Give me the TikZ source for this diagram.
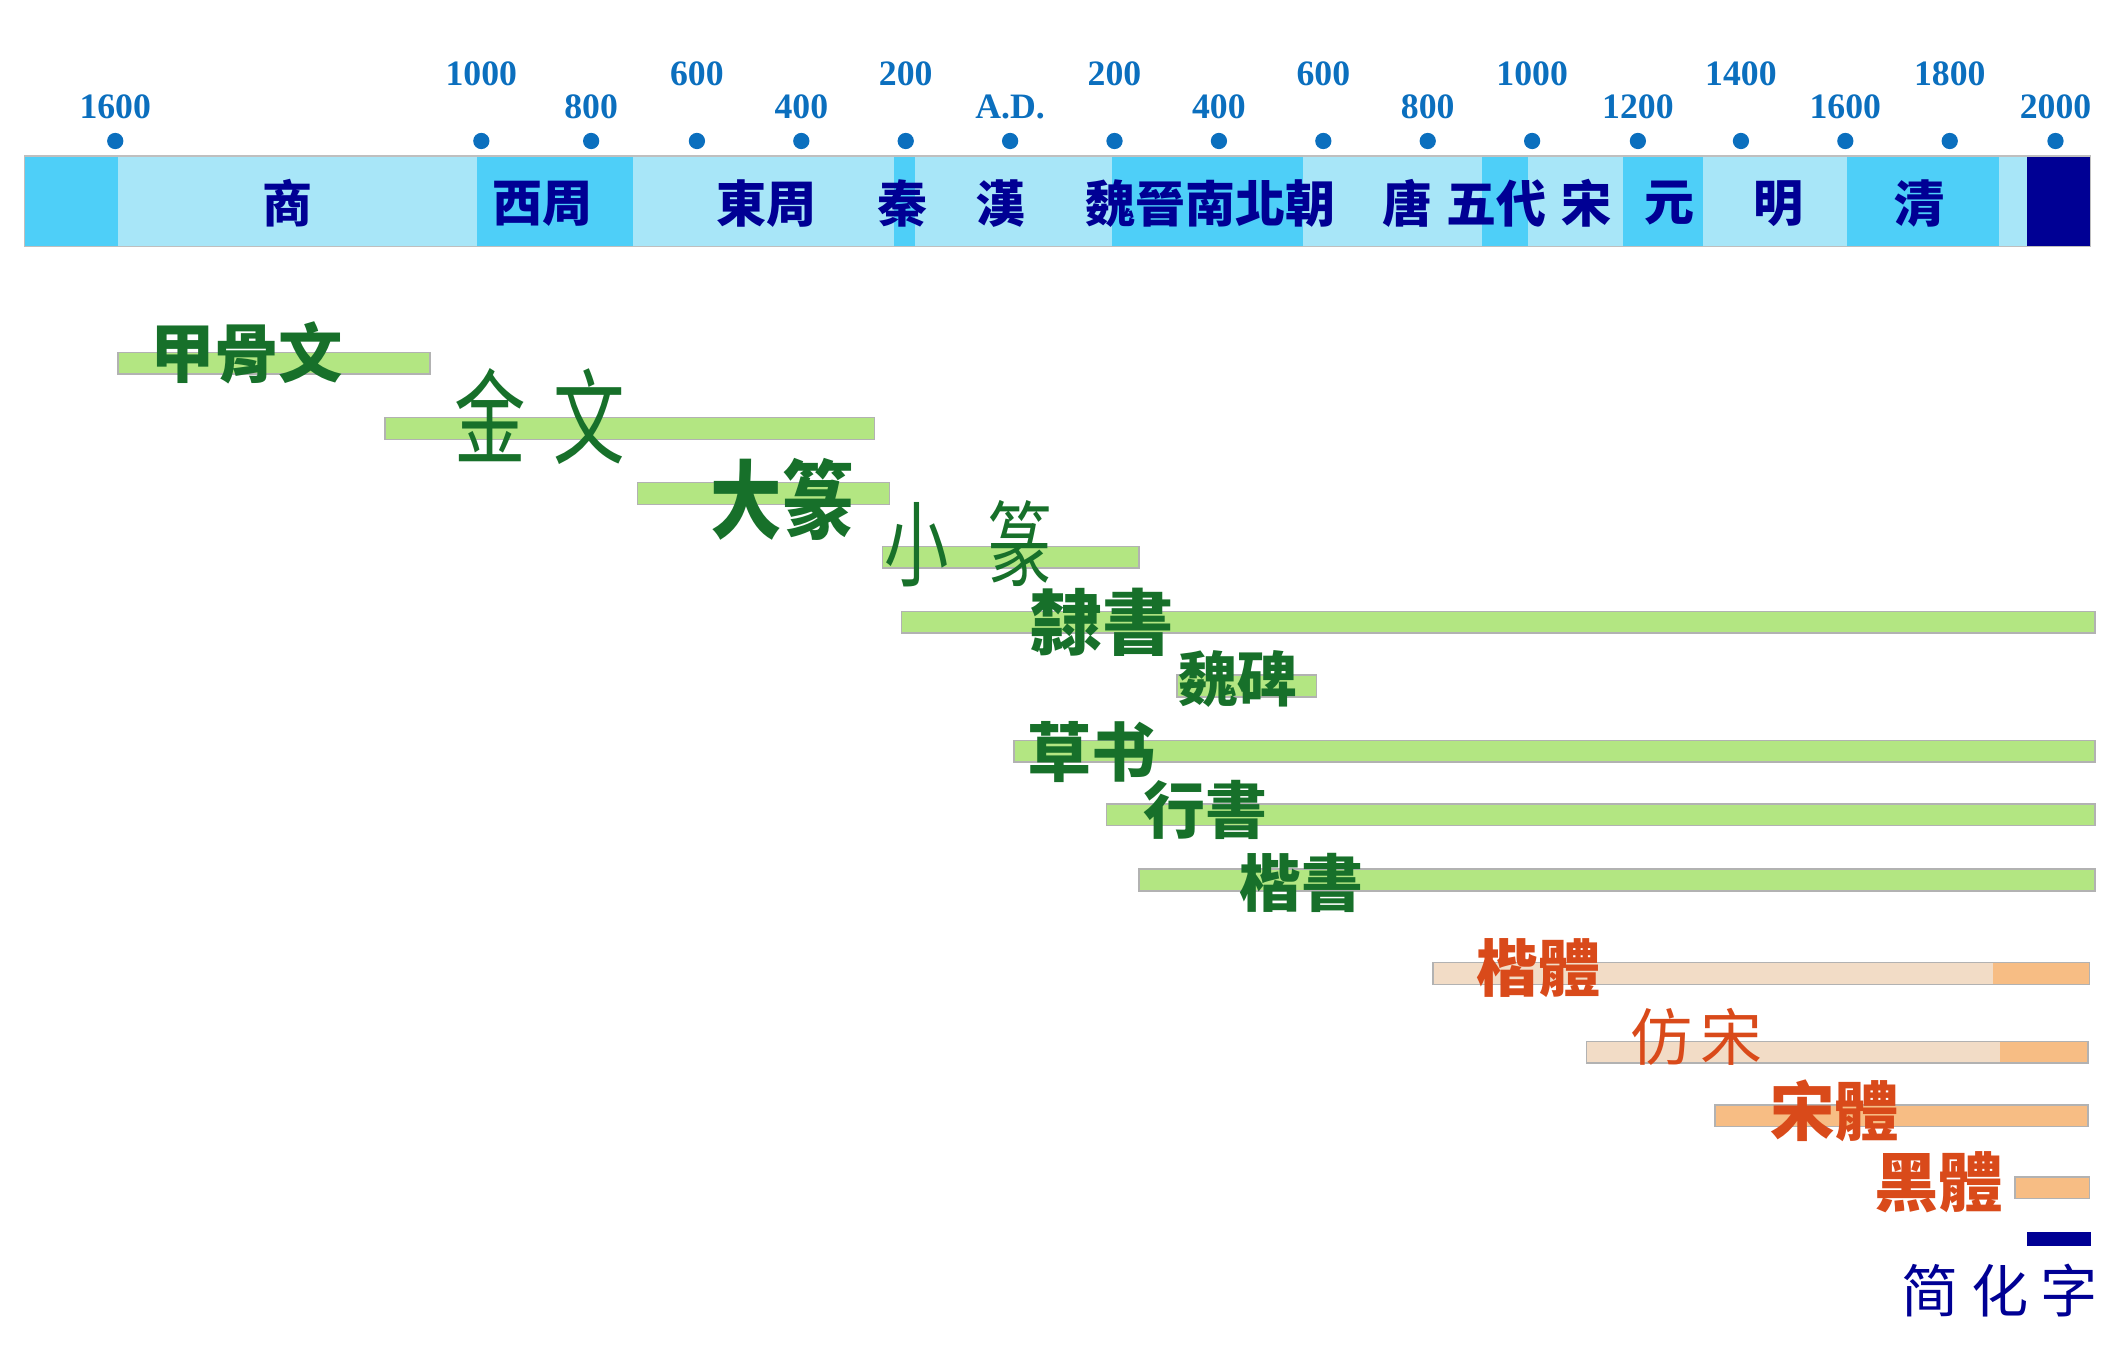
\documentclass[tikz,border=0pt]{standalone}
\usepackage{fontspec}
\setmainfont{Liberation Serif}
\newfontfamily\cjk{Noto Sans CJK TC}
\newfontfamily\cjksc{Noto Sans CJK SC}
\usetikzlibrary{positioning}
\definecolor{lt}{HTML}{A8E6F8}
\definecolor{dk}{HTML}{4ECFF8}
\definecolor{navy}{HTML}{000094}
\definecolor{tick}{HTML}{0B6FBE}
\definecolor{grn}{HTML}{B3E682}
\definecolor{ink}{HTML}{17702A}
\definecolor{pale}{HTML}{F2DCC6}
\definecolor{org}{HTML}{F7BD84}
\definecolor{rust}{HTML}{D94A1A}
\newcommand{\tall}[2]{\scalebox{1}[#1]{#2}}
\begin{document}
\begin{tikzpicture}[x=0.1mm, y=-0.1mm,
	dot/.style={circle, fill=tick, inner sep=0pt, minimum size=1.2mm},
	yr/.style={text=tick, inner sep=0pt, font=\fontsize{7.5}{8}\selectfont\bfseries},
	period/.style={text=navy, inner sep=0pt, font=\cjk\bfseries\fontsize{10.5}{10.5}\selectfont},
	sz/.style={inner sep=0pt, font=\cjk\bfseries\fontsize{#1}{#1}\selectfont},
	thin/.style={inner sep=0pt, font=\cjk\fontsize{#1}{#1}\selectfont},
	gbar/.style={fill=grn, draw=gray!60, line width=0.3pt},
	obar/.style={draw=gray!60, line width=0.3pt}]
	\useasboundingbox (0,0) rectangle (1568,996);
	% time axis
	\foreach \x/\t/\g [count=\i] in {85/1600/0.9, 355/1000/3.3, 436/800/0.9, 514/600/3.3, 591/400/0.9, 668/200/3.3, 745/A.D./0.9, 822/200/3.3, 899/400/0.9, 976/600/3.3, 1053/800/0.9, 1130/1000/3.3, 1208/1200/0.9, 1284/1400/3.3, 1361/1600/0.9, 1438/1800/3.3, 1516/2000/0.9}
	{
		\node[dot] (d\i) at (\x,104) {};
		\node[yr, above=\g mm of d\i] (y\i) {\t};
	}
	\foreach \a/\b/\c in {18/87/dk, 87/352/lt, 352/467/dk, 467/659/lt, 659/675/dk, 675/820/lt, 820/961/dk, 961/1093/lt, 1093/1127/dk, 1127/1197/lt, 1197/1256/dk, 1256/1362/lt, 1362/1474/dk, 1474/1495/lt, 1495/1542/navy}
		\fill[\c] (\a,115) rectangle (\b,182);
	\draw[gray!50, line width=0.3pt] (18,115) rectangle (1542,182);
	\foreach \x/\t [count=\i] in {212/商, 400/西周, 565/東周, 666/秦, 738/漢, 893/魏晉南北朝, 1038/唐, 1104/五代, 1170/宋, 1231/元, 1312/明, 1416/清}
		\node[period] (p\i) at (\x,150) {\t};
	% scripts
	\foreach \a/\b/\y in {87/317/260, 284/645/308, 470/656/356, 651/840/403, 665/1545/451, 868/971/498, 748/1545/546, 816/1545/593, 840/1545/641}
		\draw[gbar] (\a,\y) rectangle (\b,\y+16);
	\node[sz=13.5, text=ink] (jgw) at (182,260) {甲骨文};
	\node[thin=15, text=ink] (jw) at (398,307) {\tall{1.45}{金\hspace{2mm}文}};
	\node[sz=15, text=ink] (dz) at (577,368) {\tall{1.2}{大篆}};
	\node[thin=13.5, text=ink] (xz) at (714,401) {\tall{1.45}{小\hspace{2.8mm}篆}};
	\node[sz=15, text=ink] (ls) at (813,459) {隸書};
	\node[sz=12.5, text=ink] (wb) at (913,501) {魏碑};
	\node[sz=13.5, text=ink] (cs) at (805,555) {草书};
	\node[sz=13, text=ink] (xs) at (889,597) {行書};
	\node[sz=13, text=ink] (ks) at (960,651) {楷書};
	% printed types
	\fill[pale] (1057,710) rectangle (1541,726);
	\fill[org] (1470,710) rectangle (1541,726);
	\draw[obar] (1057,710) rectangle (1541,726);
	\fill[pale] (1170,768) rectangle (1540,784);
	\fill[org] (1475,768) rectangle (1540,784);
	\draw[obar] (1170,768) rectangle (1540,784);
	\draw[obar, fill=org] (1265,815) rectangle (1540,831);
	\draw[obar, fill=org] (1486,868) rectangle (1541,884);
	\fill[navy] (1495,909) rectangle (1542,919);
	\node[sz=13, text=rust] (kt) at (1135,714) {楷體};
	\node[thin=13, text=rust] (fs) at (1251,765) {仿\hspace{0.6mm}宋};
	\node[sz=13.5, text=rust] (st) at (1353,819) {宋體};
	\node[sz=13.5, text=rust] (ht) at (1430,872) {黑體};
	\node[inner sep=0pt, text=navy, font=\cjksc\fontsize{12}{12}\selectfont] (jh) at (1475,952) {简\hspace{0.9mm}化\hspace{0.9mm}字};
\end{tikzpicture}
\end{document}
